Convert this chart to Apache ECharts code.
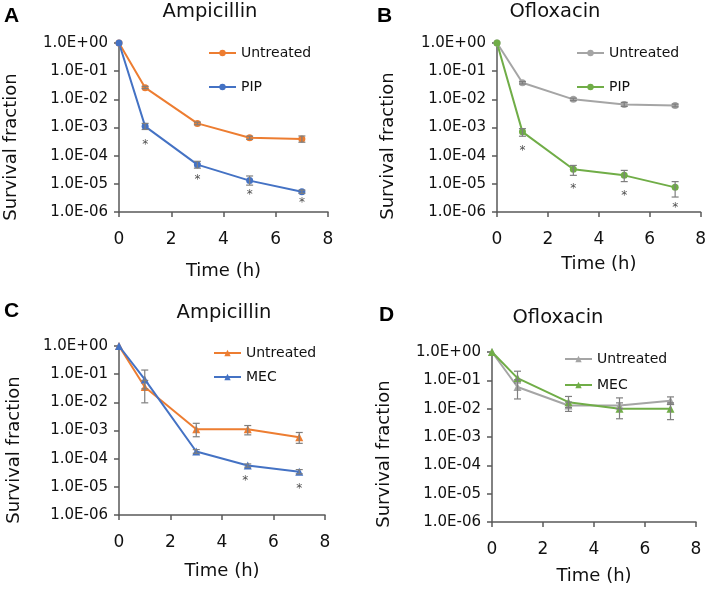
<!DOCTYPE html>
<html>
<head>
<meta charset="utf-8">
<script src="https://cdn.jsdelivr.net/npm/echarts@6/dist/echarts.min.js"></script>
<style>html,body{margin:0;padding:0;background:#fff}#c{width:709px;height:590px}</style>
</head>
<body>
<div id="c"></div>
<script>
// ---------- data ----------
const timeHours = [0, 1, 3, 5, 7];
const xTicks = [0, 2, 4, 6, 8];

// Panel A: Ampicillin, Untreated vs PIP
const aUntreated   = [1, 2.6e-2, 1.4e-3, 4.3e-4, 3.9e-4];
const aUntreatedLo = [null, 2.4e-2, 1.25e-3, 3.8e-4, 3.0e-4];
const aUntreatedHi = [null, 2.9e-2, 1.55e-3, 4.9e-4, 5.0e-4];
const aPIP   = [1, 1.1e-3, 4.8e-5, 1.3e-5, 5.2e-6];
const aPIPLo = [null, 8.5e-4, 3.6e-5, 9e-6, 4.6e-6];
const aPIPHi = [null, 1.4e-3, 6.3e-5, 1.9e-5, 6.0e-6];
const aStarX = [1, 3, 5, 7];
const aStarY = [3.2e-4, 1.8e-5, 5.1e-6, 2.8e-6];

// Panel B: Ofloxacin, Untreated vs PIP
const bUntreated   = [1, 3.9e-2, 1.0e-2, 6.6e-3, 6.1e-3];
const bUntreatedLo = [null, 3.5e-2, 9e-3, 5.6e-3, 5.4e-3];
const bUntreatedHi = [null, 4.3e-2, 1.1e-2, 7.8e-3, 6.8e-3];
const bPIP   = [1, 7.0e-4, 3.3e-5, 2.0e-5, 7.5e-6];
const bPIPLo = [null, 4.9e-4, 2.0e-5, 1.2e-5, 3.4e-6];
const bPIPHi = [null, 9.1e-4, 4.5e-5, 3.0e-5, 1.2e-5];
const bStarX = [1, 3, 5, 7];
const bStarY = [1.9e-4, 8.4e-6, 4.7e-6, 1.8e-6];

// Panel C: Ampicillin, Untreated vs MEC
const cUntreated   = [1, 3.5e-2, 1.1e-3, 1.1e-3, 5.8e-4];
const cUntreatedLo = [null, 9.6e-3, 6e-4, 7e-4, 3.5e-4];
const cUntreatedHi = [null, 6e-2, 1.8e-3, 1.5e-3, 8.5e-4];
const cMEC   = [1, 6.5e-2, 1.8e-4, 5.7e-5, 3.4e-5];
const cMECLo = [null, 3e-2, 1.55e-4, 5e-5, 2.9e-5];
const cMECHi = [null, 1.4e-1, 2.1e-4, 6.5e-5, 4.1e-5];
const cStarX = [4.9, 7];
const cStarY = [2.1e-5, 1.1e-5];

// Panel D: Ofloxacin, Untreated vs MEC
const dUntreated   = [1, 5.8e-2, 1.3e-2, 1.3e-2, 1.9e-2];
const dUntreatedLo = [null, 2.2e-2, 8e-3, 1.0e-2, 1.4e-2];
const dUntreatedHi = [null, 1.05e-1, 1.7e-2, 1.6e-2, 2.6e-2];
const dMEC   = [1, 1.2e-1, 1.7e-2, 1.0e-2, 1.0e-2];
const dMECLo = [null, 8.1e-2, 1.1e-2, 4.4e-3, 4.1e-3];
const dMECHi = [null, 2.1e-1, 2.7e-2, 2.4e-2, 1.6e-2];

const panelLetters = ['A', 'B', 'C', 'D'];
const panelTitles = ['Ampicillin', 'Ofloxacin', 'Ampicillin', 'Ofloxacin'];
const yTitle = 'Survival fraction';
const xTitle = 'Time (h)';

// ---------- styles ----------
const ORANGE = '#ED7D31', BLUE = '#4472C4', GRAY = '#A5A5A5', GREEN = '#70AD47';
const AXIS = '#595959', TEXT = '#111';
const FONT = 'DejaVu Sans';

const grids = [
  {left: 119, top: 43, width: 209, height: 169},
  {left: 497, top: 43, width: 206, height: 169},
  {left: 119, top: 346, width: 206, height: 169},
  {left: 492, top: 352, width: 204, height: 170}
];

function yFmt(v) {
  const e = Math.round(Math.log10(v));
  return '1.0E' + (e < 0 ? '-' : '+') + String(Math.abs(e)).padStart(2, '0');
}

const xAxes = grids.map((g, i) => ({
  gridIndex: i, type: 'value', min: xTicks[0], max: xTicks[xTicks.length - 1], interval: 2,
  axisLine: {lineStyle: {color: AXIS, width: 1.5}},
  axisTick: {show: true, length: 5, lineStyle: {color: AXIS, width: 1.5}},
  axisLabel: {color: TEXT, fontFamily: FONT, fontSize: 17, margin: 19},
  splitLine: {show: false},
  name: xTitle, nameLocation: 'middle', nameGap: [50, 43, 47, 45][i],
  nameTextStyle: {color: TEXT, fontFamily: FONT, fontSize: 18}
}));
const yAxes = grids.map((g, i) => ({
  gridIndex: i, type: 'log', logBase: 10, min: 1e-6, max: 1, interval: 1, splitNumber: 6,
  axisLine: {lineStyle: {color: AXIS, width: 1.5}},
  axisTick: {show: true, length: 5, lineStyle: {color: AXIS, width: 1.5}},
  axisLabel: {color: TEXT, fontFamily: FONT, fontSize: 15, margin: 11, formatter: yFmt},
  splitLine: {show: false}
}));

const series = [];
function addLine(panel, name, vals, lo, hi, color, symbol, size) {
  series.push({
    type: 'line', name: name + '|' + panel, xAxisIndex: panel, yAxisIndex: panel,
    data: timeHours.map((t, k) => [t, vals[k]]),
    symbol: symbol, symbolSize: size, showSymbol: true,
    lineStyle: {color: color, width: 2}, itemStyle: {color: color}, z: 3
  });
  series.push({
    type: 'custom', xAxisIndex: panel, yAxisIndex: panel, z: 4, silent: true,
    data: timeHours.map((t, k) => [t, lo[k], hi[k]]).filter(d => d[1] != null),
    renderItem: function (params, api) {
      const x = api.value(0);
      const p1 = api.coord([x, api.value(1)]);
      const p2 = api.coord([x, api.value(2)]);
      const w = 3.5, st = {stroke: '#7f7f7f', lineWidth: 1.2};
      return {type: 'group', children: [
        {type: 'line', shape: {x1: p1[0], y1: p1[1], x2: p2[0], y2: p2[1]}, style: st},
        {type: 'line', shape: {x1: p1[0] - w, y1: p1[1], x2: p1[0] + w, y2: p1[1]}, style: st},
        {type: 'line', shape: {x1: p2[0] - w, y1: p2[1], x2: p2[0] + w, y2: p2[1]}, style: st}
      ]};
    }
  });
}
function addStars(panel, xs, ys) {
  series.push({
    type: 'scatter', xAxisIndex: panel, yAxisIndex: panel, silent: true, z: 5,
    data: xs.map((x, k) => [x, ys[k]]), symbol: 'circle', symbolSize: 2,
    itemStyle: {color: 'rgba(0,0,0,0)'},
    label: {show: true, position: 'inside', formatter: '*', color: '#222', fontFamily: FONT, fontSize: 12, offset: [0, 3]}
  });
}

addLine(0, 'Untreated', aUntreated, aUntreatedLo, aUntreatedHi, ORANGE, 'circle', 7);
addLine(0, 'PIP', aPIP, aPIPLo, aPIPHi, BLUE, 'circle', 7);
addStars(0, aStarX, aStarY);
addLine(1, 'Untreated', bUntreated, bUntreatedLo, bUntreatedHi, GRAY, 'circle', 7);
addLine(1, 'PIP', bPIP, bPIPLo, bPIPHi, GREEN, 'circle', 7);
addStars(1, bStarX, bStarY);
addLine(2, 'Untreated', cUntreated, cUntreatedLo, cUntreatedHi, ORANGE, 'triangle', 8);
addLine(2, 'MEC', cMEC, cMECLo, cMECHi, BLUE, 'triangle', 8);
addStars(2, cStarX, cStarY);
addLine(3, 'Untreated', dUntreated, dUntreatedLo, dUntreatedHi, GRAY, 'triangle', 8);
addLine(3, 'MEC', dMEC, dMECLo, dMECHi, GREEN, 'triangle', 8);

const legendPos = [
  {left: 203, top: 41, gap: 20, names: ['Untreated|0', 'PIP|0']},
  {left: 571, top: 41, gap: 20, names: ['Untreated|1', 'PIP|1']},
  {left: 208, top: 341, gap: 10, names: ['Untreated|2', 'MEC|2']},
  {left: 559, top: 347, gap: 12, names: ['Untreated|3', 'MEC|3']}
];
const legends = legendPos.map(l => ({
  left: l.left, top: l.top, orient: 'vertical', itemGap: l.gap,
  itemWidth: 27, itemHeight: 8, data: l.names, selectedMode: false,
  formatter: n => n.split('|')[0],
  textStyle: {color: TEXT, fontFamily: FONT, fontSize: 14}
}));

const letterPos = [[4, 16], [377, 16], [4, 311], [379, 315]];
const titlePos = [[210, 12], [555, 12], [224, 313], [558, 318]];
const yTitlePos = [[11, 147], [388, 146], [14, 450], [384, 454]];
const graphic = [];
for (let i = 0; i < 4; i++) {
  graphic.push({type: 'text', x: letterPos[i][0], y: letterPos[i][1],
    style: {text: panelLetters[i], font: 'bold 21px "Liberation Sans"', fill: '#000', textAlign: 'left', textVerticalAlign: 'middle'}});
  graphic.push({type: 'text', x: titlePos[i][0], y: titlePos[i][1],
    style: {text: panelTitles[i], font: '19.5px "' + FONT + '"', fill: TEXT, textAlign: 'center', textVerticalAlign: 'middle'}});
  graphic.push({type: 'text', x: yTitlePos[i][0], y: yTitlePos[i][1], rotation: Math.PI / 2,
    style: {text: yTitle, font: '18px "' + FONT + '"', fill: TEXT, textAlign: 'center', textVerticalAlign: 'middle'}});
}

const chart = echarts.init(document.getElementById('c'), null, {renderer: 'canvas'});
chart.setOption({
  animation: false,
  backgroundColor: '#fff',
  grid: grids,
  xAxis: xAxes,
  yAxis: yAxes,
  legend: legends,
  series: series,
  graphic: graphic
});
</script>
</body>
</html>
